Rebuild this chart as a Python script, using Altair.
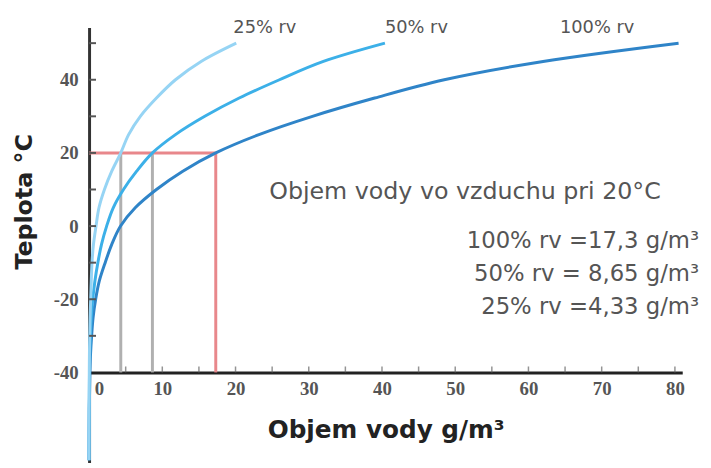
import altair as alt
import pandas as pd

# Temperature (°C) and water content (g/m3)
temps = [-64, -50, -40, -35, -30, -25, -20, -15, -10, -5, 0, 5, 10, 15, 20, 25, 30, 35, 40, 45, 50]
rv100 = [0.0, 0.03, 0.12, 0.2, 0.35, 0.55, 0.9, 1.4, 2.2, 3.1, 4.3, 6.3, 9.2, 12.8, 17.3, 23.2, 30.5, 39.0, 48.5, 62.0, 80.5]
rv50 = [0.0, 0.02, 0.06, 0.1, 0.18, 0.3, 0.5, 0.8, 1.2, 1.7, 2.4, 3.3, 4.7, 6.5, 8.65, 11.8, 15.8, 20.5, 26.0, 32.0, 40.4]
rv25 = [0.0, 0.01, 0.03, 0.05, 0.09, 0.14, 0.22, 0.3, 0.4, 0.6, 0.95, 1.35, 2.1, 3.1, 4.33, 5.4, 7.0, 9.2, 11.8, 15.3, 20.1]

series_names = ["100% rv", "50% rv", "25% rv"]
series_colors = ["#2f84c8", "#3cb0e8", "#96d4f4"]

# values at 20 °C
ref_temp = 20
ref_base = -40
red_values = [17.3]
gray_values = [8.65, 4.33]

# annotation texts
series_label_text = ["25% rv", "50% rv", "100% rv"]
series_label_x = [19.7, 40.4, 64.3]
series_label_y = [52.9, 52.9, 52.9]

block_text = ["100% rv =17,3 g/m³", "50% rv =  8,65 g/m³", "25% rv =4,33 g/m³"]
block_y = [-6.0, -15.0, -24.0]
block_x = 83.3
title_text = "Objem vody vo vzduchu pri 20°C"
title_pos = (24.6, 7.3)

x_tick_labels = list(range(0, 81, 10))
x_minor_ticks = list(range(5, 81, 5))
y_tick_labels = [-40, -20, 0, 20, 40]
y_minor_ticks = list(range(-30, 51, 10))

rows = []
for name, vals in zip(series_names, [rv100, rv50, rv25]):
    for t, v in zip(temps, vals):
        rows.append({"series": name, "t": t, "w": v})
curves = pd.DataFrame(rows)

red_v = pd.DataFrame({"w": red_values, "t": ref_temp, "t2": ref_base})
gray_v = pd.DataFrame({"w": gray_values, "t": ref_temp, "t2": ref_base})
red_h = pd.DataFrame({"w0": [0.0], "w": red_values, "t": [ref_temp]})
slabels = pd.DataFrame({"text": series_label_text, "w": series_label_x, "t": series_label_y})
blines = pd.DataFrame({"text": block_text, "w": block_x, "t": block_y})
btitle = pd.DataFrame({"text": [title_text], "w": [title_pos[0]], "t": [title_pos[1]]})
xticks_df = pd.DataFrame({"w": x_minor_ticks, "t": ref_base})
yticks_df = pd.DataFrame({"t": y_minor_ticks})

xscale = alt.Scale(domain=[0, 81], nice=False, zero=False)
yscale = alt.Scale(domain=[-64.6, 54.3], nice=False, zero=False)

LABEL_FONT = "Liberation Serif"
TEXT_FONT = "DejaVu Sans"

x_main_axis = alt.Axis(
    orient="bottom", offset=-91, values=x_tick_labels, ticks=False, grid=False,
    domainColor="#222222", domainWidth=3,
    labelFont=LABEL_FONT, labelFontWeight="bold", labelFontSize=19, labelColor="#555555",
    labelPadding=7, labelFlush=False,
    labelOffset={"condition": {"test": "datum.value === 0", "value": 10}, "value": 0},
    title="Objem vody g/m³", titleFont=TEXT_FONT, titleFontWeight="bold", titleFontSize=25,
    titleColor="#222222", titlePadding=20,
)
y_main_axis = alt.Axis(
    orient="left", values=y_tick_labels, ticks=False, grid=False,
    domainColor="#333333", domainWidth=3,
    labelFont=LABEL_FONT, labelFontWeight="bold", labelFontSize=19, labelColor="#555555",
    labelPadding=11, labelExpr="replace(datum.label, '\u2212', '-')",
    title="Teplota °C", titleFont=TEXT_FONT, titleFontWeight="bold", titleFontSize=24,
    titleColor="#222222", titleAngle=270, titleX=-65, titleY=176,
    titleAlign="center", titleBaseline="middle",
)

red_rules = alt.Chart(red_v).mark_rule(strokeWidth=3, color="#e8878b").encode(
    x=alt.X("w:Q", scale=xscale, axis=None),
    y=alt.Y("t:Q", scale=yscale, axis=None),
    y2="t2:Q",
)
gray_rules = alt.Chart(gray_v).mark_rule(strokeWidth=3, color="#b0b0b0").encode(
    x=alt.X("w:Q", scale=xscale, axis=None),
    y=alt.Y("t:Q", scale=yscale, axis=None),
    y2="t2:Q",
)
hline = alt.Chart(red_h).mark_rule(strokeWidth=3, color="#e8878b").encode(
    x=alt.X("w0:Q", scale=xscale, axis=None),
    x2="w:Q",
    y=alt.Y("t:Q", scale=yscale, axis=None),
)

lines = alt.Chart(curves).mark_line(strokeWidth=3, interpolate="catmull-rom").encode(
    x=alt.X("w:Q", scale=xscale, axis=x_main_axis),
    y=alt.Y("t:Q", scale=yscale, axis=y_main_axis),
    color=alt.Color("series:N", scale=alt.Scale(domain=series_names, range=series_colors), legend=None),
    order=alt.Order("t:Q"),
    detail="series:N",
)

xtick_marks = alt.Chart(xticks_df).mark_tick(
    orient="vertical", size=6, thickness=1.5, color="#666666", yOffset=-3
).encode(
    x=alt.X("w:Q", scale=xscale, axis=None),
    y=alt.Y("t:Q", scale=yscale, axis=None),
)
ytick_marks = alt.Chart(yticks_df).mark_rule(strokeWidth=2, color="#555555").encode(
    x=alt.value(0),
    x2=alt.value(7),
    y=alt.Y("t:Q", scale=yscale, axis=None),
)

slab = alt.Chart(slabels).mark_text(
    align="left", baseline="alphabetic", font=TEXT_FONT, fontSize=18, color="#555555"
).encode(
    x=alt.X("w:Q", scale=xscale, axis=None),
    y=alt.Y("t:Q", scale=yscale, axis=None),
    text="text:N",
)
blk = alt.Chart(blines).mark_text(
    align="right", baseline="alphabetic", font=TEXT_FONT, fontSize=23, color="#555555"
).encode(
    x=alt.X("w:Q", scale=xscale, axis=None),
    y=alt.Y("t:Q", scale=yscale, axis=None),
    text="text:N",
)
btl = alt.Chart(btitle).mark_text(
    align="left", baseline="alphabetic", font=TEXT_FONT, fontSize=24, color="#555555"
).encode(
    x=alt.X("w:Q", scale=xscale, axis=None),
    y=alt.Y("t:Q", scale=yscale, axis=None),
    text="text:N",
)

chart = alt.layer(
    gray_rules, red_rules, hline, lines, xtick_marks, ytick_marks, slab, blk, btl
).resolve_axis(
    x="independent", y="independent"
).properties(
    width=600, height=440,
    autosize=alt.AutoSizeParams(type="none"),
    padding={"left": 82, "top": 17, "right": 21, "bottom": 3},
    background="white",
).configure_view(stroke=None)

chart.save("out.html", embed_options={"renderer": "svg", "actions": False})
